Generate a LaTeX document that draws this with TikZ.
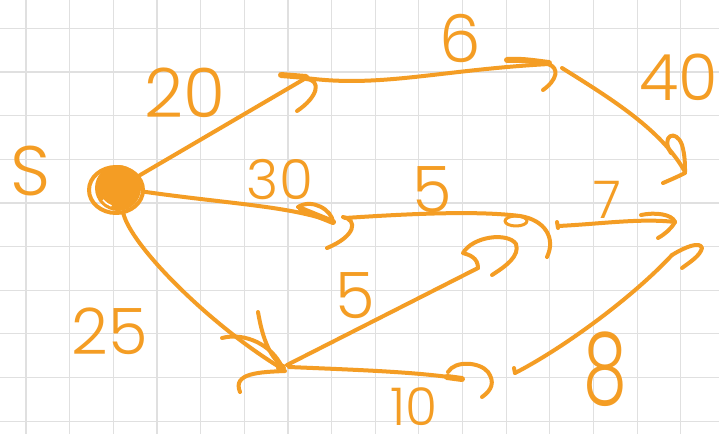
\documentclass[tikz,border=0pt]{standalone}
\usepackage{fontspec}
\setmainfont{Poppins}[UprightFont=* Light]
\definecolor{ink}{RGB}{244,157,36}
\definecolor{gridc}{RGB}{224,224,224}
\tikzset{
  pen/.style={draw=ink, line width=4pt, line cap=round, line join=round},
  heavy/.style={pen, line width=6pt},
  lbl/.style={text=ink, inner sep=0pt, anchor=center},
}
\newcommand{\fsz}[1]{\fontsize{#1}{#1}\selectfont}
\begin{document}
\begin{tikzpicture}[x=1pt,y=-1pt]
\useasboundingbox (0,0) rectangle (719,434);
\fill[white] (0,0) rectangle (719,434);
\begin{scope}
  \clip (0,0) rectangle (719,434);
  \foreach \i in {0,...,16} \draw[gridc, line width=1.2pt] ({26+43.65*\i},0) -- ({26+43.65*\i},434);
  \foreach \j in {0,...,9} \draw[gridc, line width=1.2pt] (0,{28.3+43.65*\j}) -- (719,{28.3+43.65*\j});
\end{scope}

% nodes
\node[circle, minimum size=50pt, inner sep=0pt] (S) at (118,188) {};
\coordinate (A) at (306,78);
\coordinate (B) at (549,64);
\coordinate (T1) at (685,172);
\coordinate (C) at (333,222);
\coordinate (D) at (520,216);
\coordinate (T2) at (675,222);
\coordinate (E) at (281,368);
\coordinate (Q) at (478,268);
\coordinate (F) at (462,379);
\coordinate (T3) at (672,255);

% source disc
\fill[ink] (118,188) circle[radius=23pt];
\draw[pen] (116,190) ellipse[x radius=27pt, y radius=23pt];
\draw[white, line width=1.5pt] (103,200) arc[start angle=220, end angle=250, radius=20pt];

% connectors
\draw[pen] (S) -- (A);
\draw[pen] (A) .. controls (380,88) and (440,70) .. (B);
\draw[pen] ([shift={(13,4)}]B) .. controls (610,98) and (662,130) .. (T1);
\draw[pen] (S) .. controls (230,204) and (290,206) .. (C);
\draw[pen] ([shift={(12,-4)}]C) .. controls (420,213) and (480,211) .. (D);
\draw[pen] ([shift={(38,10)}]D) .. controls (600,224) and (640,218) .. (T2);
\draw[pen] (S) .. controls (130,245) and (210,325) .. (E);
\draw[pen] ([shift={(6,-3)}]E) -- (Q);
\draw[pen] ([shift={(8,-1)}]E) .. controls (360,370) and (420,372) .. (F);
\draw[pen] ([shift={(53,-6)}]F) .. controls (560,350) and (630,300) .. (T3);

% hand-drawn arrow heads
\begin{scope}[shift={(A)}]
  \draw[heavy] (-25,-3) -- (0,-1);
  \draw[pen] (0,1) .. controls (16,2) and (12,19) .. (-9,33);
\end{scope}
\begin{scope}[shift={(B)}]
  \draw[heavy] (-42,-4) .. controls (-25,-5) and (-10,-2) .. (0,-1);
  \draw[pen] (-1,0) .. controls (11,4) and (8,16) .. (-6,26);
\end{scope}
\begin{scope}[shift={(T1)}]
  \draw[pen] (-14,-19) .. controls (-25,-36) and (-9,-44) .. (-3,-27) .. controls (0,-17) and (0,-7) .. (0,0);
  \draw[pen] (0,1) .. controls (-8,5) and (-15,8) .. (-22,11);
\end{scope}
\begin{scope}[shift={(C)}]
  \draw[pen] (-35,-15) .. controls (-21,-24) and (-1,-12) .. (0,0);
  \draw[heavy] (-32,-13) -- (0,0);
  \draw[pen] (10,-5) .. controls (25,-2) and (23,14) .. (-6,26);
\end{scope}
\begin{scope}[shift={(D)}]
  \draw[pen] (0,0) .. controls (25,4) and (36,22) .. (27,41);
  \draw[pen, line width=3pt] (-4,5) ellipse[x radius=11pt, y radius=5pt];
  \draw[pen] (37,6) -- (38,12);
\end{scope}
\begin{scope}[shift={(T2)}]
  \draw[pen] (-34,-7) .. controls (-20,-10) and (-3,-8) .. (0,0);
  \draw[pen] (0,0) .. controls (-4,7) and (-10,12) .. (-17,16);
\end{scope}
\begin{scope}[shift={(E)}]
  \draw[pen] (-23,-56) .. controls (-19,-33) and (-13,-13) .. (2,-1);
  \draw[pen] (-59,-30) .. controls (-36,-36) and (-9,-23) .. (1,-1);
  \draw[pen] (4,3) .. controls (-21,4) and (-49,5) .. (-41,24);
  \fill[ink] (0,0) circle[radius=5pt];
\end{scope}
\begin{scope}[shift={(Q)}]
  \draw[pen] (0,0) .. controls (0,-10) and (-8,-13) .. (-15,-15)
     .. controls (-5,-32) and (30,-36) .. (38,-24)
     .. controls (42,-12) and (28,-2) .. (14,7);
\end{scope}
\begin{scope}[shift={(F)}]
  \draw[heavy] (-15,-2) -- (0,0);
  \draw[pen] (-14,-7) .. controls (-7,-19) and (18,-17) .. (26,-7) .. controls (33,3) and (30,11) .. (20,18);
  \draw[pen] (53,-6) -- (52,-11);
\end{scope}
\begin{scope}[shift={(T3)}]
  \draw[pen] (0,0) .. controls (13,-8) and (28,-14) .. (30,-7) .. controls (28,1) and (18,7) .. (10,13);
\end{scope}

% labels
\node[lbl] (lS) at (31,171) {\fsz{70}S};
\node[lbl] (l20) at (185,93) {\fsz{68}20};
\node[lbl] (l30) at (280,180) {\fsz{55}30};
\node[lbl] (l6) at (460,38) {\fsz{66}6};
\node[lbl] (l40) at (679,77) {\fsz{64}40};
\node[lbl] (l5a) at (432,190) {\fsz{64}5};
\node[lbl] (l7) at (607,200) {\fsz{52}7};
\node[lbl] (l25) at (110,331) {\fsz{64}25};
\node[lbl] (l5b) at (355,296) {\fsz{64}5};
\node[lbl] (l10) at (414,407) {\fsz{52}10};
\node[lbl] (l8) at (605,369) {\scalebox{0.7}[1]{\fsz{100}8}};
\end{tikzpicture}
\end{document}
